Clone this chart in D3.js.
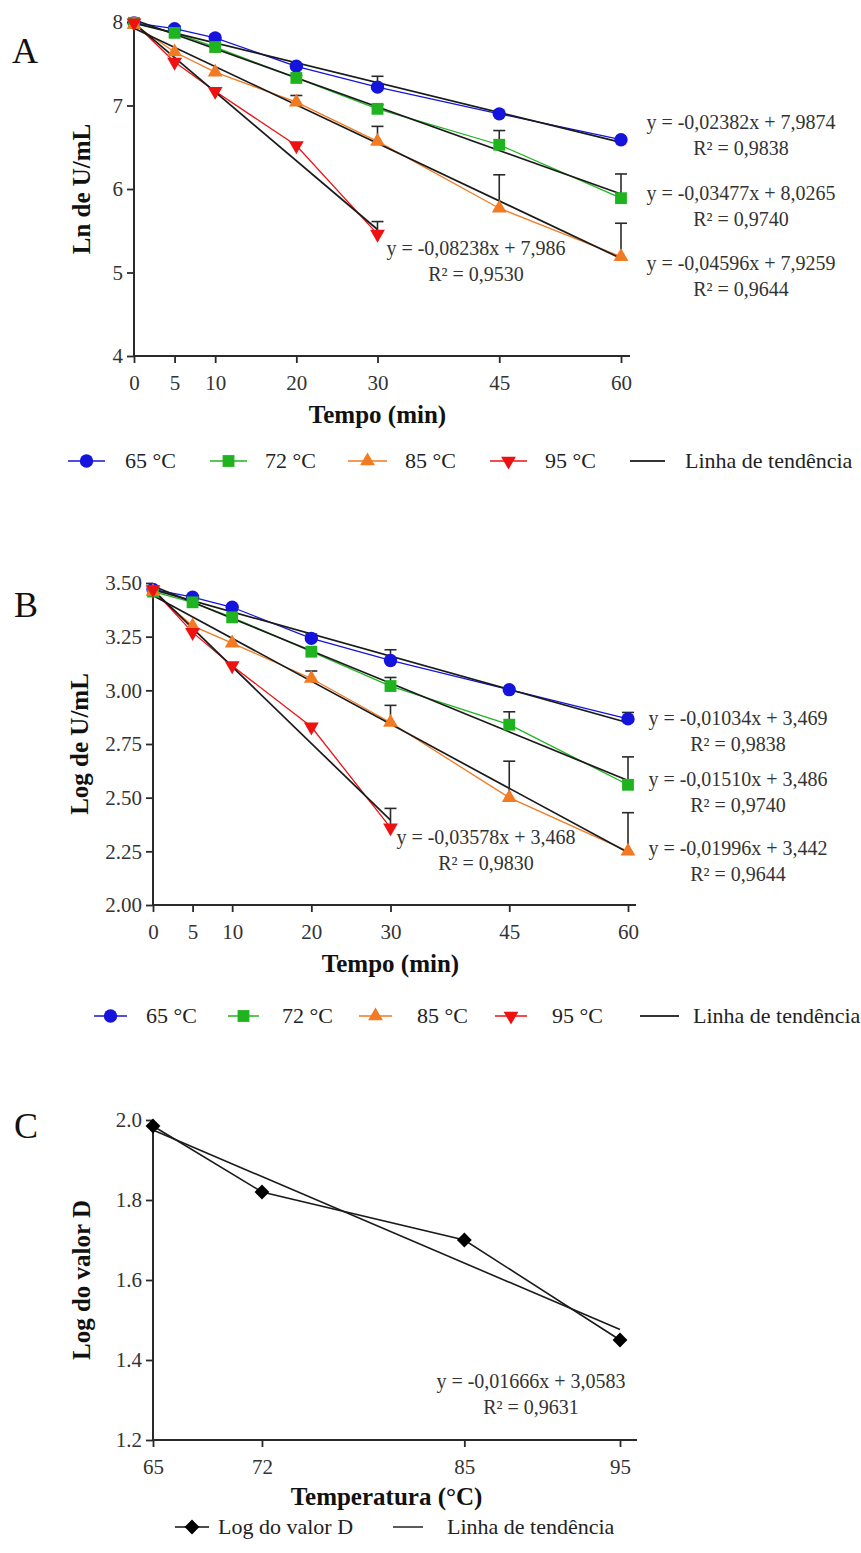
<!DOCTYPE html>
<html><head><meta charset="utf-8">
<script src="https://cdn.jsdelivr.net/npm/d3@7"></script>
<style>
body{margin:0;background:#fff}
svg{display:block}
text{font-family:"Liberation Serif","Times New Roman",serif}
</style>
</head><body>
<script>
// ---------------- DATA ----------------
const times = [0, 5, 10, 20, 30, 45, 60];
const seriesLabels = ["65 °C", "72 °C", "85 °C", "95 °C"];
const trendLabel = "Linha de tendência";

// Panel A: Ln de U/mL
const lnU_65 = [7.99, 7.92, 7.81, 7.47, 7.22, 6.90, 6.59];
const lnU_72 = [7.99, 7.87, 7.70, 7.33, 6.96, 6.53, 5.89];
const lnU_85 = [7.97, 7.64, 7.40, 7.04, 6.57, 5.77, 5.19];
const lnU_95 = [7.99, 7.52, 7.17, 6.52, 5.46];
const lnErr_65 = [0, 0.03, 0.03, 0.03, 0.13, 0, 0];
const lnErr_72 = [0, 0, 0, 0.03, 0.05, 0.17, 0.29];
const lnErr_85 = [0, 0, 0, 0.08, 0.18, 0.40, 0.40];
const lnErr_95 = [0, 0, 0, 0, 0.15];
const lnTrendY0 = [7.987, 8.027, 7.926, 7.986];
const lnTrendY1 = [6.558, 5.940, 5.168, 5.515];
const trendX1 = [60, 60, 60, 30];
const lnEquations = ["y = -0,02382x + 7,9874", "y = -0,03477x + 8,0265", "y = -0,04596x + 7,9259", "y = -0,08238x + 7,986"];
const lnR2 = ["R² = 0,9838", "R² = 0,9740", "R² = 0,9644", "R² = 0,9530"];
const lnTicksY = [4, 5, 6, 7, 8];

// Panel B: Log de U/mL
const logU_65 = [3.47, 3.434, 3.387, 3.242, 3.139, 3.003, 2.867];
const logU_72 = [3.46, 3.41, 3.34, 3.18, 3.02, 2.84, 2.56];
const logU_85 = [3.46, 3.30, 3.22, 3.055, 2.85, 2.50, 2.25];
const logU_95 = [3.47, 3.27, 3.115, 2.83, 2.36];
const logErr_65 = [0, 0, 0, 0.02, 0.05, 0, 0.03];
const logErr_72 = [0, 0, 0, 0, 0.04, 0.06, 0.13];
const logErr_85 = [0, 0, 0, 0.035, 0.08, 0.17, 0.18];
const logErr_95 = [0, 0, 0, 0, 0.09];
const logTrendY0 = [3.469, 3.486, 3.442, 3.468];
const logTrendY1 = [2.849, 2.580, 2.244, 2.395];
const logEquations = ["y = -0,01034x + 3,469", "y = -0,01510x + 3,486", "y = -0,01996x + 3,442", "y = -0,03578x + 3,468"];
const logR2 = ["R² = 0,9838", "R² = 0,9740", "R² = 0,9644", "R² = 0,9830"];
const logTicksY = [2.00, 2.25, 2.50, 2.75, 3.00, 3.25, 3.50];

// Panel C: Log do valor D
const temps = [65, 72, 85, 95];
const logD = [1.985, 1.82, 1.70, 1.45];
const logDTrendX = [65, 95];
const logDTrendY = [1.975, 1.476];
const logDEquation = "y = -0,01666x + 3,0583";
const logDR2 = "R² = 0,9631";
const dTicksY = [1.2, 1.4, 1.6, 1.8, 2.0];
const dLegend = ["Log do valor D", "Linha de tendência"];

// ---------------- STYLE ----------------
const colors = ["#1414dc", "#1fb41f", "#f27a22", "#ee1111"];
const shapes = ["circle", "square", "triangleUp", "triangleDown"];
const ink = "#2a2a2a";

const svg = d3.select("body").append("svg").attr("width", 861).attr("height", 1553);

function marker(g, shape, cx, cy, color) {
  let sym, rot = 0;
  if (shape === "circle") sym = d3.symbol(d3.symbolCircle, 140);
  else if (shape === "square") sym = d3.symbol(d3.symbolSquare, 140);
  else if (shape === "triangleUp") sym = d3.symbol(d3.symbolTriangle, 95);
  else if (shape === "triangleDown") { sym = d3.symbol(d3.symbolTriangle, 95); rot = 180; }
  else if (shape === "diamond") { sym = d3.symbol(d3.symbolSquare, 110); rot = 45; }
  g.append("path").attr("d", sym())
    .attr("transform", `translate(${cx},${cy}) rotate(${rot})`)
    .attr("fill", color);
}

function axes(g, x, y, o) {
  const xAxis = d3.axisBottom(x).tickValues(o.xTicks).tickSize(7).tickSizeOuter(0)
    .tickPadding(12).tickFormat(d3.format("d"));
  const gx = g.append("g").attr("transform", `translate(0,${o.yRange[0]})`).call(xAxis);
  gx.select(".domain").remove();
  const yAxis = d3.axisLeft(y).tickValues(o.yTicks).tickSize(7).tickSizeOuter(0)
    .tickPadding(4).tickFormat(d3.format(o.yFmt));
  const gy = g.append("g").attr("transform", `translate(${o.xRange[0]},0)`).call(yAxis);
  gy.select(".domain").remove();
  [gx, gy].forEach(a => {
    a.selectAll("line").attr("stroke", ink).attr("stroke-width", 1.8);
    a.selectAll("text").attr("font-size", 21).attr("fill", "#333")
      .attr("font-family", '"Liberation Serif","Times New Roman",serif');
  });
  g.append("line").attr("x1", o.xRange[0]).attr("x2", o.xAxisEnd)
    .attr("y1", o.yRange[0]).attr("y2", o.yRange[0]).attr("stroke", ink).attr("stroke-width", 2);
  g.append("line").attr("x1", o.xRange[0]).attr("x2", o.xRange[0])
    .attr("y1", o.yRange[0]).attr("y2", o.yRange[1]).attr("stroke", ink).attr("stroke-width", 2);
  // titles
  g.append("text").attr("x", (o.xRange[0] + o.xRange[1]) / 2).attr("y", o.xTitleY)
    .attr("text-anchor", "middle").attr("font-weight", "bold").attr("font-size", 25)
    .attr("fill", "#111").text(o.xTitle);
  g.append("text").attr("transform", `translate(${o.yTitleX},${(o.yRange[0] + o.yRange[1]) / 2}) rotate(-90)`)
    .attr("text-anchor", "middle").attr("font-weight", "bold").attr("font-size", 25)
    .attr("fill", "#111").text(o.yTitle);
  g.append("text").attr("x", o.letterX).attr("y", o.letterY).attr("font-size", 36)
    .attr("fill", "#111").text(o.letter);
}

function timePanel(o) {
  const g = svg.append("g");
  const x = d3.scaleLinear().domain([0, 60]).range(o.xRange);
  const y = d3.scaleLinear().domain(o.yDomain).range(o.yRange);
  axes(g, x, y, o);
  const line = d3.line().x(d => x(d[0])).y(d => y(d[1]));
  // colored series lines
  o.series.forEach((s, i) => {
    const pts = s.map((v, j) => [times[j], v]);
    g.append("path").attr("d", line(pts)).attr("fill", "none")
      .attr("stroke", colors[i]).attr("stroke-width", 1.3);
  });
  // trend lines
  o.trend0.forEach((t0, i) => {
    g.append("path").attr("d", line([[0, t0], [trendX1[i], o.trend1[i]]]))
      .attr("fill", "none").attr("stroke", "#1a1a1a").attr("stroke-width", 1.7);
  });
  // error bars
  o.errors.forEach((errs, i) => {
    errs.forEach((e, j) => {
      if (!e) return;
      const v = o.series[i][j];
      const px = x(times[j]);
      g.append("line").attr("x1", px).attr("x2", px).attr("y1", y(v)).attr("y2", y(v + e))
        .attr("stroke", ink).attr("stroke-width", 1.6);
      g.append("line").attr("x1", px - 6).attr("x2", px + 6).attr("y1", y(v + e)).attr("y2", y(v + e))
        .attr("stroke", ink).attr("stroke-width", 1.6);
    });
  });
  // markers
  o.series.forEach((s, i) => {
    s.forEach((v, j) => marker(g, shapes[i], x(times[j]), y(v), colors[i]));
  });
  // equations
  o.eq.forEach((t, i) => {
    g.append("text").attr("x", o.eqX[i]).attr("y", o.eqY[i]).attr("text-anchor", "middle")
      .attr("font-size", 20).attr("fill", "#333").text(t);
    g.append("text").attr("x", o.eqX[i]).attr("y", o.eqY[i] + 26).attr("text-anchor", "middle")
      .attr("font-size", 20).attr("fill", "#333").text(o.r2[i]);
  });
  // legend
  const L = o.legend;
  seriesLabels.forEach((lab, i) => {
    const it = L.items[i];
    g.append("line").attr("x1", it[0]).attr("x2", it[1]).attr("y1", L.y).attr("y2", L.y)
      .attr("stroke", colors[i]).attr("stroke-width", 1.5);
    marker(g, shapes[i], (it[0] + it[1]) / 2, L.y, colors[i]);
    g.append("text").attr("x", it[2]).attr("y", L.y + 7).attr("font-size", 22)
      .attr("fill", "#222").text(lab);
  });
  const tl = L.items[4];
  g.append("line").attr("x1", tl[0]).attr("x2", tl[1]).attr("y1", L.y).attr("y2", L.y)
    .attr("stroke", "#333").attr("stroke-width", 2);
  g.append("text").attr("x", tl[2]).attr("y", L.y + 7).attr("font-size", 22)
    .attr("fill", "#222").text(trendLabel);
}

timePanel({
  letter: "A", letterX: 12, letterY: 63,
  xRange: [134, 621], xAxisEnd: 630, xTicks: times,
  yDomain: [4, 8], yRange: [356, 22], yTicks: lnTicksY, yFmt: "d",
  xTitle: "Tempo (min)", xTitleY: 423, yTitle: "Ln de U/mL", yTitleX: 90,
  series: [lnU_65, lnU_72, lnU_85, lnU_95],
  errors: [lnErr_65, lnErr_72, lnErr_85, lnErr_95],
  trend0: lnTrendY0, trend1: lnTrendY1,
  eq: lnEquations, r2: lnR2, eqX: [741, 741, 741, 476], eqY: [129, 200, 270, 255],
  legend: { y: 461, items: [[68, 105, 125], [210, 247, 265], [348, 387, 405], [490, 527, 545], [630, 665, 685]] }
});

timePanel({
  letter: "B", letterX: 14, letterY: 617,
  xRange: [153, 628], xAxisEnd: 636, xTicks: times,
  yDomain: [2, 3.5], yRange: [905, 583], yTicks: logTicksY, yFmt: ".2f",
  xTitle: "Tempo (min)", xTitleY: 972, yTitle: "Log de U/mL", yTitleX: 88,
  series: [logU_65, logU_72, logU_85, logU_95],
  errors: [logErr_65, logErr_72, logErr_85, logErr_95],
  trend0: logTrendY0, trend1: logTrendY1,
  eq: logEquations, r2: logR2, eqX: [738, 738, 738, 486], eqY: [725, 786, 855, 844],
  legend: { y: 1016, items: [[94, 127, 146], [228, 259, 282], [359, 392, 417], [495, 527, 552], [640, 679, 693]] }
});

// Panel C
(function () {
  const o = {
    letter: "C", letterX: 14, letterY: 1138,
    xRange: [153, 620], xAxisEnd: 637, xTicks: temps,
    yRange: [1440, 1120], yTicks: dTicksY, yFmt: ".1f",
    xTitle: "Temperatura (°C)", xTitleY: 1505, yTitle: "Log do valor D", yTitleX: 90
  };
  const g = svg.append("g");
  const x = d3.scaleLinear().domain([65, 95]).range(o.xRange);
  const y = d3.scaleLinear().domain([1.2, 2.0]).range(o.yRange);
  axes(g, x, y, o);
  const line = d3.line().x(d => x(d[0])).y(d => y(d[1]));
  g.append("path").attr("d", line(temps.map((t, i) => [t, logD[i]]))).attr("fill", "none")
    .attr("stroke", "#1a1a1a").attr("stroke-width", 1.6);
  g.append("path").attr("d", line(logDTrendX.map((t, i) => [t, logDTrendY[i]]))).attr("fill", "none")
    .attr("stroke", "#1a1a1a").attr("stroke-width", 1.6);
  temps.forEach((t, i) => marker(g, "diamond", x(t), y(logD[i]), "#000"));
  g.append("text").attr("x", 531).attr("y", 1388).attr("text-anchor", "middle")
    .attr("font-size", 20).attr("fill", "#333").text(logDEquation);
  g.append("text").attr("x", 531).attr("y", 1414).attr("text-anchor", "middle")
    .attr("font-size", 20).attr("fill", "#333").text(logDR2);
  const ly = 1527;
  g.append("line").attr("x1", 175).attr("x2", 209).attr("y1", ly).attr("y2", ly)
    .attr("stroke", "#111").attr("stroke-width", 1.6);
  marker(g, "diamond", 192, ly, "#000");
  g.append("text").attr("x", 218).attr("y", ly + 7).attr("font-size", 22).attr("fill", "#222").text(dLegend[0]);
  g.append("line").attr("x1", 393).attr("x2", 423).attr("y1", ly).attr("y2", ly)
    .attr("stroke", "#333").attr("stroke-width", 1.6);
  g.append("text").attr("x", 447).attr("y", ly + 7).attr("font-size", 22).attr("fill", "#222").text(dLegend[1]);
})();
</script>
</body></html>
